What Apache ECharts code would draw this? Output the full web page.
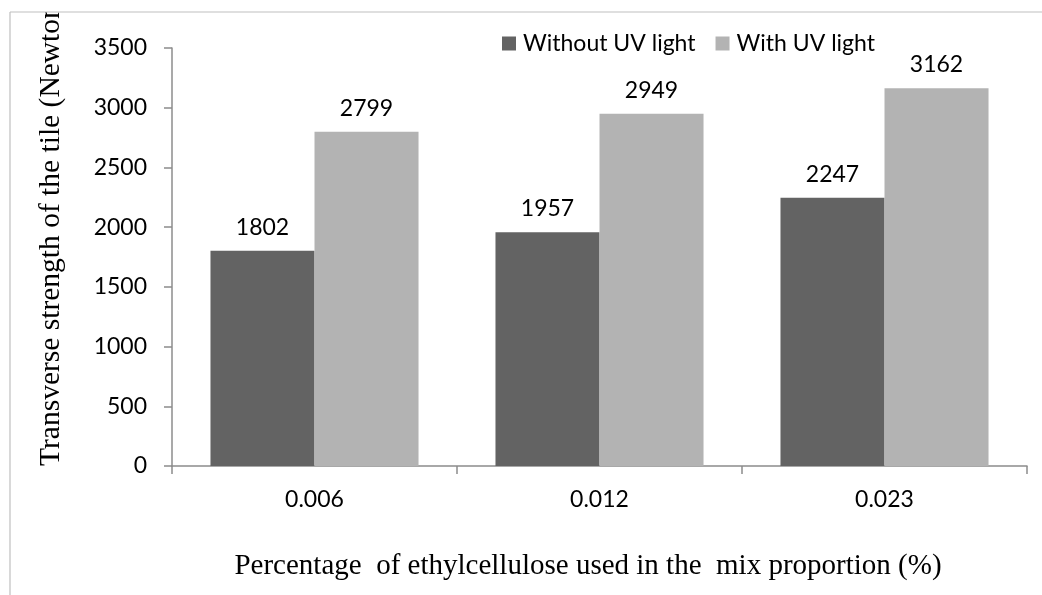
<!DOCTYPE html>
<html>
<head>
<meta charset="utf-8">
<script src="https://cdn.jsdelivr.net/npm/echarts@6/dist/echarts.min.js"></script>
<style>html,body{margin:0;padding:0;background:#fff;}#c{width:1042px;height:595px;}</style>
</head>
<body>
<div id="c"></div>
<script>
const categories = ['0.006', '0.012', '0.023'];
const withoutUV = [1802, 1957, 2247];
const withUV = [2799, 2949, 3162];
const seriesNames = ['Without UV light', 'With UV light'];
const yTitle = 'Transverse strength of the tile (Newtons)';
const xTitle = 'Percentage  of ethylcellulose used in the  mix proportion (%)';

const sansFont = 'Lato';
const serifFont = '"Liberation Serif", "DejaVu Serif", serif';
const chart = echarts.init(document.getElementById('c'), null, {renderer: 'canvas'});
const labelStyle = {show: true, position: 'top', distance: 12, color: '#000', fontFamily: sansFont, fontSize: 23};
chart.setOption({
  animation: false,
  grid: {left: 172, top: 48, right: 15, bottom: 129, containLabel: false},
  legend: {
    data: seriesNames, left: 497, top: 27, itemWidth: 14, itemHeight: 14, itemGap: 20,
    icon: 'rect',
    textStyle: {fontFamily: sansFont, fontSize: 23, color: '#000', padding: [0, 0, 0, 2]}
  },
  xAxis: {
    type: 'category', data: categories,
    axisLine: {lineStyle: {color: '#8c8c8c', width: 1.5}},
    axisTick: {show: true, length: 8, alignWithLabel: false, lineStyle: {color: '#8c8c8c', width: 1.5}},
    axisLabel: {margin: 22, color: '#000', fontFamily: sansFont, fontSize: 23}
  },
  yAxis: {
    type: 'value', min: 0, max: 3500, interval: 500,
    axisLine: {show: true, lineStyle: {color: '#8c8c8c', width: 1.5}},
    axisTick: {show: true, length: 8, lineStyle: {color: '#8c8c8c', width: 1.5}},
    splitLine: {show: false},
    axisLabel: {margin: 25, color: '#000', fontFamily: sansFont, fontSize: 23, formatter: v => String(v)}
  },
  series: [
    {name: seriesNames[0], type: 'bar', data: withoutUV, barGap: '0%', barCategoryGap: '27%',
     itemStyle: {color: '#636363'}, label: labelStyle},
    {name: seriesNames[1], type: 'bar', data: withUV,
     itemStyle: {color: '#b3b3b3'}, label: labelStyle}
  ],
  graphic: [
    {type: 'text', x: 51, y: 466, rotation: Math.PI / 2, z: 10,
     style: {text: yTitle, fontFamily: serifFont, fontSize: 29.5, fill: '#000', textAlign: 'left', textVerticalAlign: 'middle'}},
    {type: 'rect', z: 20, shape: {x: 0, y: 0, width: 1042, height: 12}, style: {fill: '#fff'}},
    {type: 'rect', z: 20, shape: {x: 0, y: 0, width: 10, height: 595}, style: {fill: '#fff'}},
    {type: 'line', z: 30, shape: {x1: 10, y1: 12, x2: 1042, y2: 12}, style: {stroke: '#bfbfbf', lineWidth: 1.2}},
    {type: 'line', z: 30, shape: {x1: 10, y1: 12, x2: 10, y2: 595}, style: {stroke: '#bfbfbf', lineWidth: 1.2}},
    {type: 'text', x: 588, y: 566, z: 10,
     style: {text: xTitle, fontFamily: serifFont, fontSize: 29, fill: '#000', textAlign: 'center', textVerticalAlign: 'middle'}}
  ]
});
</script>
</body>
</html>
